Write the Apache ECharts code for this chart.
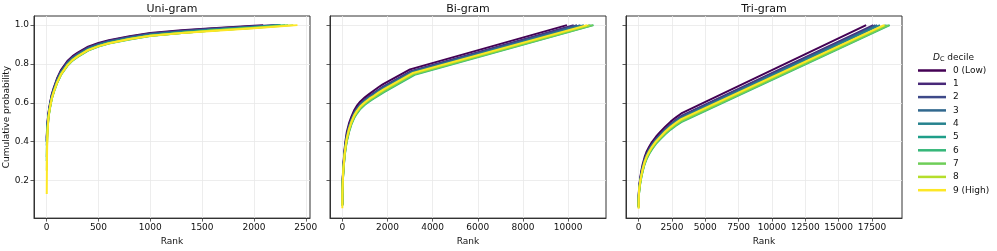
<!DOCTYPE html>
<html>
<head>
<meta charset="utf-8">
<script src="https://cdn.jsdelivr.net/npm/echarts@6/dist/echarts.min.js"></script>
<style>
html,body{margin:0;padding:0;background:#fff;}
#chart{width:997px;height:251px;}
</style>
</head>
<body>
<div id="chart"></div>
<script>
// ---------- DATA ----------
const deciles = ['0 (Low)', '1', '2', '3', '4', '5', '6', '7', '8', '9 (High)'];
const panelTitles = ['Uni-gram', 'Bi-gram', 'Tri-gram'];

const yTicks = [0.2, 0.4, 0.6, 0.8, 1.0];
const uniTicks = [0, 500, 1000, 1500, 2000, 2500];
const biTicks = [0, 2000, 4000, 6000, 8000, 10000];
const triTicks = [0, 2500, 5000, 7500, 10000, 12500, 15000, 17500];

// Uni-gram: shared ranks, then per-decile final rank (prob 1.0)
const uniRank = [1, 3, 5, 10, 17, 25, 35, 50, 70, 100, 140, 200, 250, 300, 400, 500, 600, 800, 1000, 1300, 1600, 2000];
const uniEnd = [2090, 2200, 2230, 2250, 2250, 2260, 2300, 2330, 2380, 2420];
const uniProb = [
  [0.42, 0.45, 0.47, 0.51, 0.545, 0.575, 0.605, 0.645, 0.68, 0.725, 0.77, 0.815, 0.840, 0.858, 0.889, 0.908, 0.922, 0.943, 0.959, 0.973, 0.984, 0.997, 1.0],
  [0.41, 0.44, 0.465, 0.50, 0.54, 0.57, 0.60, 0.64, 0.675, 0.72, 0.765, 0.81, 0.835, 0.854, 0.885, 0.904, 0.919, 0.940, 0.957, 0.971, 0.982, 0.994, 1.0],
  [0.40, 0.435, 0.46, 0.50, 0.535, 0.565, 0.596, 0.636, 0.671, 0.716, 0.761, 0.806, 0.832, 0.851, 0.882, 0.902, 0.917, 0.938, 0.955, 0.969, 0.980, 0.993, 1.0],
  [0.40, 0.432, 0.455, 0.495, 0.533, 0.563, 0.593, 0.633, 0.668, 0.713, 0.758, 0.803, 0.829, 0.848, 0.879, 0.899, 0.914, 0.935, 0.952, 0.967, 0.978, 0.991, 1.0],
  [0.40, 0.43, 0.45, 0.49, 0.53, 0.56, 0.59, 0.63, 0.665, 0.71, 0.755, 0.80, 0.826, 0.845, 0.877, 0.897, 0.912, 0.933, 0.950, 0.965, 0.977, 0.990, 1.0],
  [0.38, 0.415, 0.44, 0.485, 0.525, 0.555, 0.586, 0.626, 0.661, 0.706, 0.751, 0.796, 0.822, 0.841, 0.873, 0.894, 0.909, 0.930, 0.947, 0.962, 0.974, 0.988, 1.0],
  [0.30, 0.38, 0.42, 0.475, 0.518, 0.55, 0.581, 0.621, 0.656, 0.70, 0.745, 0.79, 0.817, 0.836, 0.869, 0.890, 0.905, 0.926, 0.944, 0.959, 0.972, 0.986, 1.0],
  [0.32, 0.39, 0.425, 0.478, 0.52, 0.552, 0.583, 0.622, 0.657, 0.702, 0.747, 0.792, 0.819, 0.838, 0.870, 0.891, 0.906, 0.927, 0.945, 0.960, 0.972, 0.986, 1.0],
  [0.25, 0.36, 0.41, 0.47, 0.52, 0.553, 0.584, 0.623, 0.658, 0.703, 0.748, 0.793, 0.820, 0.839, 0.871, 0.892, 0.907, 0.928, 0.945, 0.960, 0.972, 0.985, 1.0],
  [0.13, 0.30, 0.38, 0.46, 0.52, 0.553, 0.585, 0.624, 0.659, 0.704, 0.749, 0.794, 0.821, 0.840, 0.872, 0.892, 0.907, 0.928, 0.945, 0.959, 0.970, 0.984, 1.0]
];

// Bi-gram: shared early ranks, then per-decile knee ranks [k1, k2, end]
const biRank = [1, 5, 10, 20, 30, 50, 100, 150, 200, 300, 400, 520, 640, 800, 1000, 1200, 1400, 1600];
const biKnee = [
  [1790, 3000, 9950], [1808, 3060, 10250], [1813, 3076, 10400], [1818, 3094, 10550], [1824, 3112, 10700],
  [1838, 3160, 11000], [1850, 3200, 11130], [1844, 3180, 11100], [1835, 3150, 10950], [1829, 3130, 10840]
];
const biProb = [
  [0.080, 0.140, 0.170, 0.210, 0.240, 0.285, 0.360, 0.410, 0.450, 0.495, 0.527, 0.560, 0.584, 0.607, 0.628, 0.646, 0.663, 0.680, 0.695, 0.772, 1.0],
  [0.077, 0.134, 0.164, 0.203, 0.231, 0.275, 0.348, 0.397, 0.435, 0.482, 0.515, 0.548, 0.572, 0.595, 0.617, 0.634, 0.651, 0.667, 0.683, 0.764, 1.0],
  [0.076, 0.132, 0.162, 0.201, 0.229, 0.272, 0.345, 0.393, 0.431, 0.478, 0.512, 0.545, 0.568, 0.592, 0.614, 0.631, 0.647, 0.664, 0.680, 0.761, 1.0],
  [0.075, 0.131, 0.161, 0.198, 0.226, 0.269, 0.341, 0.389, 0.427, 0.474, 0.508, 0.541, 0.565, 0.589, 0.610, 0.628, 0.644, 0.660, 0.676, 0.759, 1.0],
  [0.074, 0.129, 0.159, 0.196, 0.223, 0.265, 0.338, 0.385, 0.422, 0.470, 0.505, 0.538, 0.561, 0.585, 0.607, 0.624, 0.640, 0.656, 0.673, 0.756, 1.0],
  [0.072, 0.124, 0.154, 0.190, 0.216, 0.257, 0.328, 0.374, 0.410, 0.459, 0.495, 0.528, 0.551, 0.576, 0.598, 0.615, 0.630, 0.646, 0.663, 0.750, 1.0],
  [0.070, 0.120, 0.150, 0.185, 0.210, 0.250, 0.320, 0.365, 0.400, 0.450, 0.487, 0.520, 0.543, 0.568, 0.590, 0.607, 0.622, 0.637, 0.655, 0.744, 1.0],
  [0.071, 0.122, 0.152, 0.188, 0.213, 0.254, 0.324, 0.370, 0.405, 0.455, 0.491, 0.524, 0.547, 0.572, 0.594, 0.611, 0.626, 0.641, 0.659, 0.747, 1.0],
  [0.073, 0.125, 0.155, 0.191, 0.218, 0.259, 0.330, 0.376, 0.413, 0.461, 0.497, 0.530, 0.553, 0.578, 0.600, 0.617, 0.632, 0.648, 0.665, 0.751, 1.0],
  [0.057, 0.127, 0.157, 0.194, 0.221, 0.262, 0.334, 0.381, 0.418, 0.466, 0.501, 0.534, 0.557, 0.582, 0.603, 0.621, 0.636, 0.652, 0.669, 0.754, 1.0]
];

// Tri-gram: shared early ranks, then per-decile knee ranks [k, end]
const triRank = [1, 10, 30, 60, 125, 200, 300, 450, 600, 800, 1000, 1300, 1600, 2000, 2400, 2800];
const triKnee = [
  [3200, 17060], [3200, 17600], [3200, 17760], [3200, 17900], [3200, 18100],
  [3200, 18600], [3200, 18830], [3200, 18750], [3200, 18500], [3200, 18400]
];
const triProb = [
  [0.070, 0.120, 0.155, 0.180, 0.215, 0.247, 0.282, 0.320, 0.348, 0.375, 0.398, 0.425, 0.448, 0.477, 0.503, 0.525, 0.545, 1.0],
  [0.067, 0.114, 0.148, 0.173, 0.206, 0.237, 0.271, 0.309, 0.337, 0.364, 0.387, 0.414, 0.437, 0.465, 0.491, 0.512, 0.532, 1.0],
  [0.066, 0.112, 0.146, 0.171, 0.204, 0.234, 0.268, 0.306, 0.334, 0.361, 0.384, 0.411, 0.434, 0.462, 0.487, 0.509, 0.528, 1.0],
  [0.065, 0.111, 0.143, 0.168, 0.201, 0.231, 0.265, 0.303, 0.330, 0.357, 0.380, 0.408, 0.430, 0.459, 0.484, 0.505, 0.524, 1.0],
  [0.064, 0.109, 0.141, 0.166, 0.198, 0.228, 0.261, 0.299, 0.327, 0.354, 0.377, 0.404, 0.427, 0.455, 0.480, 0.501, 0.520, 1.0],
  [0.062, 0.104, 0.135, 0.160, 0.191, 0.220, 0.252, 0.290, 0.318, 0.345, 0.368, 0.395, 0.418, 0.446, 0.470, 0.491, 0.509, 1.0],
  [0.060, 0.100, 0.130, 0.155, 0.185, 0.213, 0.245, 0.283, 0.310, 0.337, 0.360, 0.388, 0.410, 0.438, 0.462, 0.482, 0.500, 1.0],
  [0.061, 0.102, 0.133, 0.158, 0.188, 0.216, 0.249, 0.287, 0.314, 0.341, 0.364, 0.392, 0.414, 0.442, 0.466, 0.486, 0.505, 1.0],
  [0.062, 0.105, 0.136, 0.161, 0.193, 0.222, 0.254, 0.292, 0.320, 0.347, 0.370, 0.397, 0.420, 0.448, 0.472, 0.493, 0.511, 1.0],
  [0.054, 0.107, 0.139, 0.164, 0.196, 0.225, 0.258, 0.296, 0.323, 0.350, 0.373, 0.401, 0.423, 0.452, 0.476, 0.497, 0.516, 1.0]
];

// ---------- STYLE ----------
const colors = ['#440154', '#482878', '#3e4989', '#31688e', '#26828e', '#1f9e89', '#35b779', '#6ece58', '#b5de2b', '#fde725'];
const FONT = 'DejaVu Sans';
const gridLefts = [34, 330, 626];
const gridW = 276;

function pairs(ranks, probs) { return ranks.map((r, i) => [r, probs[i]]); }

const series = [];
for (let d = 0; d < 10; d++) {
  const sets = [
    pairs(uniRank.concat([uniEnd[d]]), uniProb[d]),
    pairs(biRank.concat(biKnee[d]), biProb[d]),
    pairs(triRank.concat(triKnee[d]), triProb[d])
  ];
  sets.forEach((data, p) => {
    series.push({
      type: 'line', name: deciles[d], xAxisIndex: p, yAxisIndex: p, data,
      symbol: 'none', showSymbol: false, silent: true, z: 2,
      lineStyle: { width: 2, color: colors[d], join: 'round' }, itemStyle: { color: colors[d] }
    });
  });
}

const xCfg = [
  { min: -122, max: 2541, step: 500, ticks: uniTicks },
  { min: -545, max: 11680, step: 2000, ticks: biTicks },
  { min: -945, max: 19750, step: 2500, ticks: triTicks }
];

const chart = echarts.init(document.getElementById('chart'), null, { renderer: 'canvas' });
chart.setOption({
  animation: false,
  textStyle: { fontFamily: FONT },
  title: panelTitles.map((t, i) => ({
    text: t, left: gridLefts[i] + gridW / 2, top: 4, padding: 0, textAlign: 'center',
    textStyle: { fontFamily: FONT, fontSize: 11, fontWeight: 'normal', color: '#111' }
  })).concat([{
    text: '{d|D}{c|C}{n| decile}', left: 933, top: 52, padding: 0,
    textStyle: {
      fontFamily: FONT, fontSize: 9, fontWeight: 'normal', color: '#111',
      rich: {
        d: { fontFamily: FONT, fontSize: 9, fontStyle: 'italic', color: '#111' },
        c: { fontFamily: FONT, fontSize: 6.5, color: '#111', padding: [4, 0, 0, 0] },
        n: { fontFamily: FONT, fontSize: 9, color: '#111' }
      }
    }
  }]),
  legend: {
    data: deciles, orient: 'vertical', left: 918, top: 65, padding: 0,
    icon: 'rect', itemWidth: 28, itemHeight: 2.5, itemGap: 2.3, selectedMode: false,
    textStyle: { fontFamily: FONT, fontSize: 9, color: '#111', lineHeight: 11, padding: [0, 0, 0, 2] }
  },
  grid: gridLefts.map(l => ({
    left: l, top: 16, width: gridW, height: 206, show: true,
    borderColor: '#333', borderWidth: 1, containLabel: false
  })),
  xAxis: xCfg.map((c, i) => ({
    gridIndex: i, type: 'value', min: c.min, max: c.max,
    splitNumber: 5, minInterval: c.step, maxInterval: c.step,
    name: 'Rank', nameLocation: 'middle', nameGap: 15,
    nameTextStyle: { fontFamily: FONT, fontSize: 9, color: '#111' },
    axisLine: { show: true, onZero: false, lineStyle: { color: '#333', width: 1 } },
    axisTick: { show: true, length: 3.5, customValues: c.ticks, lineStyle: { color: '#333', width: 0.8 } },
    axisLabel: { customValues: c.ticks, formatter: v => String(Math.round(v)), fontFamily: FONT, fontSize: 9, color: '#111', margin: 5 },
    splitLine: { show: true, lineStyle: { color: '#e8e8e8', width: 0.8 } }
  })),
  yAxis: [0, 1, 2].map(i => ({
    gridIndex: i, type: 'value', min: 0.006, max: 1.047,
    splitNumber: 5, minInterval: 0.2, maxInterval: 0.2,
    name: i === 0 ? 'Cumulative probability' : '', nameLocation: 'middle', nameGap: 17,
    nameTextStyle: { fontFamily: FONT, fontSize: 9, color: '#111' },
    axisLine: { show: true, onZero: false, lineStyle: { color: '#333', width: 1 } },
    axisTick: { show: true, length: 3.5, customValues: yTicks, lineStyle: { color: '#333', width: 0.8 } },
    axisLabel: { show: i === 0, customValues: yTicks, formatter: v => v.toFixed(1), fontFamily: FONT, fontSize: 9, color: '#111', margin: 5 },
    splitLine: { show: true, lineStyle: { color: '#e8e8e8', width: 0.8 } }
  })),
  series
});
</script>
</body>
</html>
